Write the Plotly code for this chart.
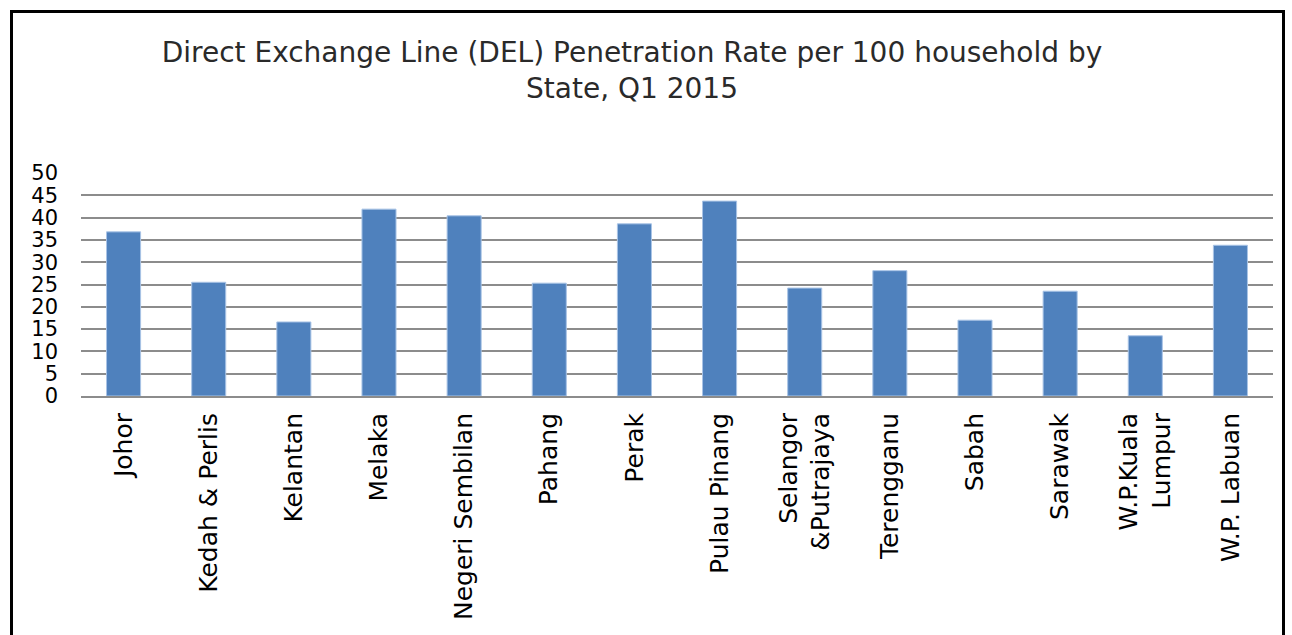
import plotly.graph_objects as go

states = ["Johor", "Kedah & Perlis", "Kelantan", "Melaka", "Negeri Sembilan", "Pahang",
          "Perak", "Pulau Pinang", "Selangor<br>&Putrajaya", "Terengganu", "Sabah",
          "Sarawak", "W.P.Kuala<br>Lumpur", "W.P. Labuan"]
rates = [36.8, 25.5, 16.6, 41.9, 40.4, 25.3, 38.6, 43.7, 24.2, 28.1, 17.0, 23.5, 13.5, 33.8]
y_ticks = [0, 5, 10, 15, 20, 25, 30, 35, 40, 45, 50]

W, H = 1292, 635
L, R, T, B = 81, 1273, 173, 396

FONT = "DejaVu Sans"

fig = go.Figure(go.Bar(
    x=states, y=rates,
    marker=dict(color="#4F81BD", line=dict(color="#A9C4E6", width=1)),
))

fig.update_layout(
    width=W, height=H,
    margin=dict(l=L, r=W - R, t=T, b=H - B),
    paper_bgcolor="white", plot_bgcolor="white",
    bargap=0.6,
    showlegend=False,
    font=dict(family=FONT, color="black"),
    title=dict(
        text="Direct Exchange Line (DEL) Penetration Rate per 100 household by<br>State, Q1 2015",
        x=632 / W, xanchor="center", xref="container",
        y=1 - 62 / H, yanchor="top", yref="container",
        font=dict(family=FONT, size=28, color="#2a2a2a"),
    ),
    xaxis=dict(
        tickangle=-90, tickfont=dict(family=FONT, size=25, color="black"),
        showgrid=False, showline=True, linecolor="#8C8C8C", linewidth=2,
        ticks="", ticklen=0, ticklabelstandoff=5,
    ),
    yaxis=dict(
        range=[0, 50], tickvals=y_ticks,
        tickfont=dict(family=FONT, size=21, color="black"),
        showgrid=True, gridcolor="#8C8C8C", gridwidth=2,
        zeroline=False, showline=False, ticks="", ticklabelstandoff=22,
    ),
)

def px_to_paper_x(px):
    return (px - L) / (R - L)

def px_to_paper_y(py):
    return (B - py) / (B - T)

fig.add_shape(type="rect", xref="paper", yref="paper",
              x0=px_to_paper_x(11.5), x1=px_to_paper_x(1283.5),
              y0=px_to_paper_y(660), y1=px_to_paper_y(11.5),
              line=dict(color="black", width=3), fillcolor="rgba(0,0,0,0)", layer="below")

fig.write_html("out.html", config={"displayModeBar": False},
               post_script="document.body.style.margin='0';document.body.style.overflow='hidden';")
